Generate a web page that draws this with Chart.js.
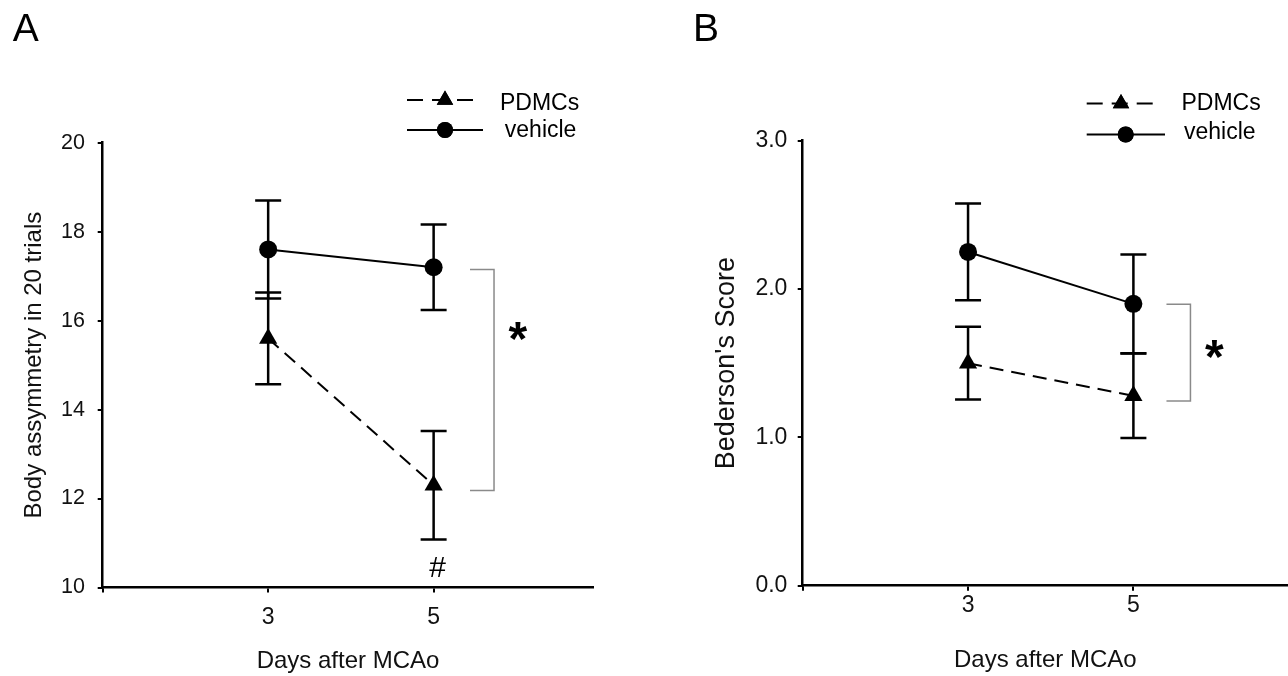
<!DOCTYPE html>
<html>
<head>
<meta charset="utf-8">
<script src="https://cdn.jsdelivr.net/npm/chart.js@4.4.1/dist/chart.umd.min.js"></script>
<style>
  html, body { margin: 0; padding: 0; background: #fff; }
  #fig { position: relative; width: 1288px; height: 676px; overflow: hidden; }
  .panel { position: absolute; top: 0; width: 644px; height: 676px; }
  #panel-a { left: 0; }
  #panel-b { left: 644px; }
</style>
</head>
<body>
<div id="fig">
  <div class="panel" id="panel-a"><canvas id="chart-a" width="644" height="676"></canvas></div>
  <div class="panel" id="panel-b"><canvas id="chart-b" width="644" height="676"></canvas></div>
</div>
<script>
// Two-panel figure: body asymmetry (A) and Bederson's score (B), mean ± SEM.

const FONT = "'Liberation Sans', Arial, sans-serif";
Chart.defaults.font.family = FONT;
Chart.defaults.color = '#111';

// --- Data -------------------------------------------------------------------

const DAYS = [3, 5];
const X_TICKS = [1, 3, 5];

const BODY_PDMC = [15.6, 12.3];
const BODY_PDMC_SEM = [1.03, 1.22];
const BODY_VEHICLE = [17.6, 17.2];
const BODY_VEHICLE_SEM = [1.1, 0.96];

const BED_PDMC = [1.5, 1.28];
const BED_PDMC_SEM = [0.245, 0.285];
const BED_VEHICLE = [2.25, 1.9];
const BED_VEHICLE_SEM = [0.326, 0.333];

const LABELS = ['PDMCs', 'vehicle'];

// --- Helpers ----------------------------------------------------------------

const CAP = 13;

function series(vals) {
  return DAYS.map((d, i) => ({ x: d, y: vals[i] }));
}

function makeDatasets(pdmc, pdmcSem, veh, vehSem) {
  const common = {
    borderColor: '#000',
    backgroundColor: '#000',
    pointBackgroundColor: '#000',
    pointBorderWidth: 0,
    borderWidth: 2,
    clip: false,
  };
  return [
    { ...common, label: LABELS[0], data: series(pdmc), sem: pdmcSem,
      borderDash: [14, 8], legendDash: [16, 9], pointStyle: 'triangle', pointRadius: 10.5 },
    { ...common, label: LABELS[1], data: series(veh), sem: vehSem,
      pointStyle: 'circle', pointRadius: 9 },
  ];
}

function drawCentered(ctx, text, cx, cy) {
  const m = ctx.measureText(text);
  const w = m.actualBoundingBoxLeft + m.actualBoundingBoxRight;
  ctx.textAlign = 'left';
  ctx.textBaseline = 'alphabetic';
  ctx.fillText(text, cx - w / 2 + m.actualBoundingBoxLeft,
    cy + (m.actualBoundingBoxAscent - m.actualBoundingBoxDescent) / 2);
}

// error bars go under the markers
const errorBars = {
  id: 'errorBars',
  beforeDatasetsDraw(chart) {
    const { ctx, scales: { x, y } } = chart;
    ctx.save();
    ctx.strokeStyle = '#000';
    ctx.lineWidth = 2.5;
    ctx.setLineDash([]);
    chart.data.datasets.forEach(ds => {
      ds.data.forEach((p, i) => {
        const px = x.getPixelForValue(p.x);
        const top = y.getPixelForValue(p.y + ds.sem[i]);
        const bot = y.getPixelForValue(p.y - ds.sem[i]);
        ctx.beginPath();
        ctx.moveTo(px, top); ctx.lineTo(px, bot);
        ctx.moveTo(px - CAP, top); ctx.lineTo(px + CAP, top);
        ctx.moveTo(px - CAP, bot); ctx.lineTo(px + CAP, bot);
        ctx.stroke();
      });
    });
    ctx.restore();
  },
};

// panel letter, legend, significance bracket and marks
const extras = {
  id: 'extras',
  afterDraw(chart, args, opts) {
    const { ctx, scales: { x, y } } = chart;
    ctx.save();
    ctx.fillStyle = '#000';

    ctx.font = `39px ${FONT}`;
    ctx.textAlign = 'left';
    ctx.textBaseline = 'alphabetic';
    ctx.fillText(opts.letter, opts.letterX, 41);

    const lg = opts.legend;
    chart.data.datasets.forEach((ds, i) => {
      const ly = lg.lineY[i];
      ctx.strokeStyle = '#000';
      ctx.lineWidth = 2;
      ctx.setLineDash(ds.legendDash || []);
      ctx.beginPath();
      ctx.moveTo(lg.x0, ly);
      ctx.lineTo(lg.x1[i], ly);
      ctx.stroke();
      ctx.setLineDash([]);
      Chart.helpers.drawPoint(ctx, {
        pointStyle: ds.pointStyle, radius: ds.pointRadius - 1, borderWidth: 0, rotation: 0,
      }, lg.markerX[i], ly);
      ctx.fill();
      ctx.font = `23px ${FONT}`;
      ctx.textBaseline = 'middle';
      ctx.fillText(ds.label, lg.textX[i], lg.textY[i]);
    });

    const b = opts.bracket;
    const bx0 = x.getPixelForValue(b.x0);
    const bx1 = x.getPixelForValue(b.x1);
    const byt = y.getPixelForValue(b.top);
    const byb = y.getPixelForValue(b.bottom);
    ctx.strokeStyle = '#8a8a8a';
    ctx.lineWidth = 1.5;
    ctx.beginPath();
    ctx.moveTo(bx0, byt); ctx.lineTo(bx1, byt); ctx.lineTo(bx1, byb); ctx.lineTo(bx0, byb);
    ctx.stroke();

    ctx.fillStyle = '#000';
    ctx.font = `bold 48px ${FONT}`;
    drawCentered(ctx, '*', x.getPixelForValue(opts.star.x), y.getPixelForValue(opts.star.y));

    if (opts.hash) {
      ctx.font = `30px ${FONT}`;
      drawCentered(ctx, '#', x.getPixelForValue(opts.hash.x), y.getPixelForValue(opts.hash.y));
    }
    ctx.restore();
  },
};

function axisStyle() {
  return {
    grid: { drawOnChartArea: false, drawTicks: true, tickLength: 5, color: '#000', lineWidth: 2 },
    border: { display: true, color: '#000', width: 2.5 },
  };
}

function makeChart(id, cfg) {
  return new Chart(document.getElementById(id), {
    type: 'line',
    data: { datasets: cfg.datasets },
    options: {
      responsive: false,
      animation: false,
      events: [],
      layout: { autoPadding: false, padding: { top: cfg.padTop, right: cfg.padRight, left: 0, bottom: 0 } },
      plugins: {
        legend: { display: false },
        tooltip: { enabled: false },
        extras: cfg.extras,
      },
      scales: {
        x: {
          type: 'linear',
          min: 1,
          max: cfg.xMax,
          ...axisStyle(),
          afterBuildTicks: s => { s.ticks = X_TICKS.map(v => ({ value: v })); },
          afterFit: s => { s.height = cfg.xHeight; },
          ticks: {
            autoSkip: false, maxRotation: 0, color: '#111',
            font: { size: cfg.xTickSize }, padding: cfg.xTickPad,
            callback: v => (v === 1 ? '' : String(v)),
          },
          title: {
            display: true, text: 'Days after MCAo', color: '#111',
            font: { size: 24 }, padding: { top: 0, bottom: cfg.xTitlePad },
          },
        },
        y: {
          type: 'linear',
          min: cfg.yMin,
          max: cfg.yMax,
          ...axisStyle(),
          afterFit: s => { s.width = cfg.yWidth; },
          ticks: {
            stepSize: cfg.yStep, color: '#111',
            font: { size: cfg.tickSize }, padding: cfg.yTickPad,
            callback: cfg.yFmt,
          },
          title: {
            display: true, text: cfg.yTitle, color: '#111',
            font: { size: cfg.yTitleSize }, padding: { top: cfg.yTitlePad, bottom: 0 },
          },
        },
      },
    },
    plugins: [errorBars, extras],
  });
}

// --- Panels -----------------------------------------------------------------

makeChart('chart-a', {
  datasets: makeDatasets(BODY_PDMC, BODY_PDMC_SEM, BODY_VEHICLE, BODY_VEHICLE_SEM),
  yMin: 10, yMax: 20, yStep: 2, yFmt: v => v,
  xMax: 6.93,
  padTop: 142.7, padRight: 50.7, yWidth: 102.7, xHeight: 88.5,
  tickSize: 21.5, xTickSize: 23, yTickPad: 12.7, xTickPad: 11.5, xTitlePad: 0.6,
  yTitle: 'Body assymmetry in 20 trials', yTitleSize: 24, yTitlePad: 19.6,
  extras: {
    letter: 'A', letterX: 12.7,
    legend: { x0: 407, x1: [475, 483], markerX: [445, 445], lineY: [100, 130],
      textX: [500, 504.8], textY: [103.3, 130.5] },
    bracket: { x0: 5.44, x1: 5.73, top: 17.15, bottom: 12.18 },
    star: { x: 6.02, y: 15.47 },
    hash: { x: 5.05, y: 10.46 },
  },
});

makeChart('chart-b', {
  datasets: makeDatasets(BED_PDMC, BED_PDMC_SEM, BED_VEHICLE, BED_VEHICLE_SEM),
  yMin: 0, yMax: 3, yStep: 1, yFmt: v => v.toFixed(1),
  xMax: 6.87,
  padTop: 140.7, padRight: 0, yWidth: 158.7, xHeight: 90.3,
  tickSize: 23, xTickSize: 23, yTickPad: 10.3, xTickPad: 1.5, xTitlePad: 1,
  yTitle: "Bederson's Score", yTitleSize: 27, yTitlePad: 66.8,
  extras: {
    letter: 'B', letterX: 49,
    legend: { x0: 442.7, x1: [512.7, 521], markerX: [477, 481.7], lineY: [103.5, 134.5],
      textX: [537.5, 540], textY: [104, 132.5] },
    bracket: { x0: 5.40, x1: 5.69, top: 1.897, bottom: 1.245 },
    star: { x: 5.98, y: 1.505 },
  },
});
</script>
</body>
</html>
